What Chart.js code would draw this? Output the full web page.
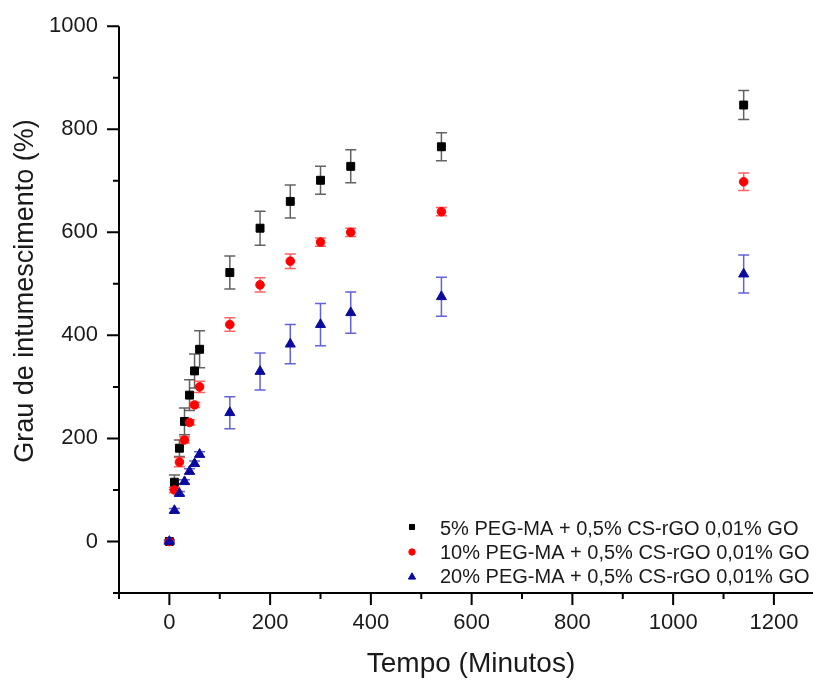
<!DOCTYPE html>
<html>
<head>
<meta charset="utf-8">
<script src="https://cdn.jsdelivr.net/npm/chart.js@4.4.1/dist/chart.umd.min.js"></script>
<style>
html,body{margin:0;padding:0;background:#ffffff;}
#wrap{width:813px;height:680px;position:relative;overflow:hidden;}
#c{position:absolute;left:0;top:0;}
</style>
</head>
<body>
<div id="wrap"><canvas id="c" width="821" height="680"></canvas></div>
<script>
// ---- data ----
const timeMin = [0, 10, 20, 30, 40, 50, 60, 120, 180, 240, 300, 360, 540, 1140];

const swell5  = [0, 115, 181, 233, 284, 331, 373, 522, 608, 660, 701, 728, 766, 847];
const err5    = [0, 14, 16, 26, 30, 33, 36, 32, 33, 32, 27, 32, 27, 28];

const swell10 = [0, 100, 154, 197, 231, 265, 300, 421, 498, 544, 581, 600, 640, 698];
const err10   = [3, 5, 9, 6, 5, 5, 11, 13, 14, 14, 8, 8, 8, 17];

const swell20 = [0, 60, 93, 116, 136, 151, 169, 250, 330, 383, 421, 444, 475, 519];
const err20   = [3, 4, 4, 4, 5, 5, 5, 31, 36, 38, 41, 40, 38, 37];

const seriesNames = [
  '5% PEG-MA + 0,5% CS-rGO 0,01% GO',
  '10% PEG-MA + 0,5% CS-rGO 0,01% GO',
  '20% PEG-MA + 0,5% CS-rGO 0,01% GO'
];
const xTickLabels = [0, 200, 400, 600, 800, 1000, 1200];
const yTickLabels = [0, 200, 400, 600, 800, 1000];
const xTitle = 'Tempo (Minutos)';
const yTitle = 'Grau de intumescimento (%)';

// ---- styles ----
const FONT = '"Liberation Sans", Arial, Helvetica, sans-serif';
const TEXT = '#1a1a1a';
const markerColors = ['#000000', '#ff0000', '#0a0aa0'];
const errColors = ['rgba(70,70,70,0.85)', 'rgba(255,70,70,0.85)', 'rgba(70,70,210,0.85)'];
const pointStyles = ['rect', 'circle', 'triangle'];
const pointRadii = [5.6, 4.3, 5.8];
const errors = [err5, err10, err20];
const values = [swell5, swell10, swell20];

function toPoints(vals) { return timeMin.map((t, i) => ({ x: t, y: vals[i] })); }

const decoPlugin = {
  id: 'deco',
  beforeDatasetsDraw(chart) {
    const ctx = chart.ctx, xs = chart.scales.x, ys = chart.scales.y;
    ctx.save();
    ctx.lineWidth = 1.5;
    for (let s = 0; s < values.length; s++) {
      ctx.strokeStyle = errColors[s];
      for (let i = 0; i < timeMin.length; i++) {
        const e = errors[s][i];
        const px = xs.getPixelForValue(timeMin[i]);
        const yTop = ys.getPixelForValue(values[s][i] + e);
        const yBot = ys.getPixelForValue(values[s][i] - e);
        ctx.beginPath();
        ctx.moveTo(px, yTop); ctx.lineTo(px, yBot);
        ctx.moveTo(px - 5.5, yTop); ctx.lineTo(px + 5.5, yTop);
        ctx.moveTo(px - 5.5, yBot); ctx.lineTo(px + 5.5, yBot);
        ctx.stroke();
      }
    }
    ctx.restore();
  },
  afterDraw(chart) {
    const ctx = chart.ctx, xs = chart.scales.x, ys = chart.scales.y;
    const a = chart.chartArea;
    ctx.save();
    // axes
    ctx.strokeStyle = '#000';
    ctx.lineWidth = 2;
    ctx.beginPath();
    ctx.moveTo(a.left, a.top); ctx.lineTo(a.left, a.bottom + 6);
    ctx.moveTo(a.left - 6, a.bottom); ctx.lineTo(a.right + 8, a.bottom);
    ctx.stroke();
    // tick marks
    ctx.beginPath();
    ys.ticks.forEach(t => {
      const len = (t.value % 200 === 0) ? 12 : 6;
      const py = ys.getPixelForValue(t.value);
      ctx.moveTo(a.left, py); ctx.lineTo(a.left - len, py);
    });
    xs.ticks.forEach(t => {
      const len = (t.value % 200 === 0) ? 12 : 6;
      const px = xs.getPixelForValue(t.value);
      ctx.moveTo(px, a.bottom); ctx.lineTo(px, a.bottom + len);
    });
    ctx.stroke();
    // axis titles
    ctx.fillStyle = TEXT;
    ctx.textAlign = 'center';
    ctx.textBaseline = 'alphabetic';
    ctx.font = '28px ' + FONT;
    ctx.fillText(xTitle, 471, 672);
    ctx.save();
    ctx.translate(33, 291);
    ctx.rotate(-Math.PI / 2);
    ctx.font = '27px ' + FONT;
    ctx.fillText(yTitle, 0, 0);
    ctx.restore();
    // legend
    const rowsMarker = [527, 552, 577];
    const rowsText = [535, 559, 583];
    const legR = [3.6, 3.2, 4.2];
    ctx.font = '20px ' + FONT;
    ctx.textAlign = 'left';
    for (let s = 0; s < 3; s++) {
      ctx.fillStyle = markerColors[s];
      ctx.strokeStyle = markerColors[s];
      ctx.lineWidth = 1;
      Chart.helpers.drawPoint(ctx, { pointStyle: pointStyles[s], radius: legR[s], borderWidth: 1, rotation: 0 }, 412, rowsMarker[s]);
      ctx.fillStyle = TEXT;
      ctx.fillText(seriesNames[s], 440, rowsText[s]);
    }
    ctx.restore();
  }
};

const datasets = values.map((v, s) => ({
  label: seriesNames[s],
  data: toPoints(v),
  showLine: false,
  pointStyle: pointStyles[s],
  pointRadius: pointRadii[s],
  pointHoverRadius: pointRadii[s],
  pointBackgroundColor: markerColors[s],
  pointBorderColor: markerColors[s],
  pointBorderWidth: 1,
  order: 3 - s
}));

new Chart(document.getElementById('c'), {
  type: 'scatter',
  data: { datasets },
  options: {
    responsive: false,
    animation: false,
    devicePixelRatio: 1,
    layout: { padding: { top: 18, right: 0, left: 0, bottom: 0 } },
    plugins: { legend: { display: false }, tooltip: { enabled: false } },
    scales: {
      x: {
        type: 'linear', min: -100, max: 1280,
        grid: { display: false }, border: { display: false },
        ticks: {
          stepSize: 100, includeBounds: false, autoSkip: false, maxRotation: 0,
          padding: 9, color: TEXT, font: { family: FONT, size: 22 },
          callback: v => xTickLabels.includes(v) ? String(v) : ''
        },
        afterFit: s => { s.height = 87; }
      },
      y: {
        type: 'linear', min: -100, max: 1000,
        grid: { display: false }, border: { display: false },
        ticks: {
          stepSize: 100, includeBounds: false, autoSkip: false,
          padding: 13, color: TEXT, font: { family: FONT, size: 22 },
          callback: v => yTickLabels.includes(v) ? String(v) : ''
        },
        afterFit: s => { s.width = 119; }
      }
    }
  },
  plugins: [decoPlugin]
});
</script>
</body>
</html>
